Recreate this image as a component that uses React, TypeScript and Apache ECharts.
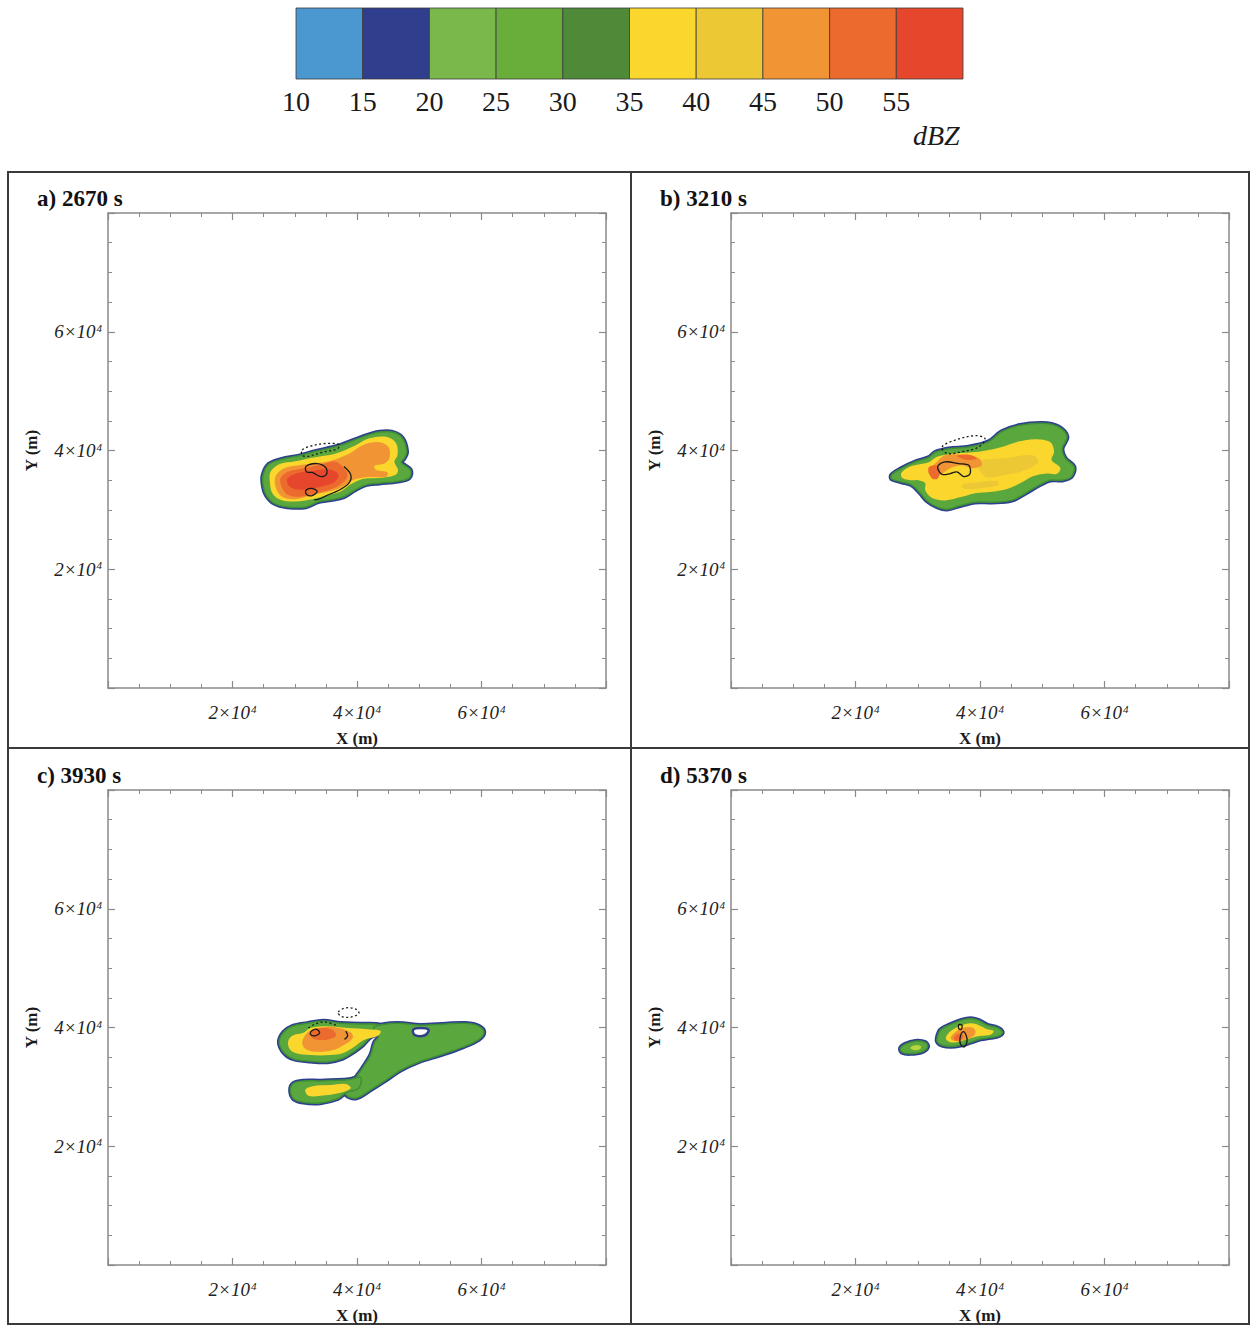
import React, { useEffect, useRef } from "react";
import * as echarts from "echarts";

// ---------- colour bar ----------
const barEdges = [10, 15, 20, 25, 30, 35, 40, 45, 50, 55, 60];
const barColors = ["#4b97cf", "#2f3f8e", "#7ab84b", "#69ae3b", "#4f8a39", "#fbd62d", "#edc835", "#f19434", "#ec6a2e", "#e6462b"];
const barTickLabels = [10, 15, 20, 25, 30, 35, 40, 45, 50, 55];
const barUnit = "dBZ";

// ---------- panels ----------
const panelTitles = ["a) 2670 s", "b) 3210 s", "c) 3930 s", "d) 5370 s"];

// contour polygons, km (x, y)
// panel a
const a20 = [[24.9,35.9],[25.85,37.7],[28.5,38.7],[30.7,39.1],[33.1,39.8],[37.1,40.8],[40.9,42.3],[43.6,43.1],[45.7,43.1],[47.3,42.1],[48.0,39.8],[47.6,38.7],[47.1,38.0],[48.6,36.7],[48.4,35.4],[46.5,34.8],[43.6,34.5],[41.4,34.2],[39.6,33.3],[37.9,32.2],[35.8,31.7],[33.9,31.4],[31.8,30.5],[28.8,30.5],[26.7,31.1],[25.4,32.5],[24.9,34.2]];
const a35 = [[26.1,36.4],[27.5,37.7],[30.1,38.2],[32.8,38.8],[36.6,39.5],[39.8,40.9],[42.0,42.05],[44.7,42.3],[46.3,41.2],[46.5,39.2],[46.0,38.1],[46.6,36.7],[46.2,35.9],[44.1,35.4],[40.9,35.2],[39.0,34.3],[37.4,33.1],[35.3,32.5],[32.8,31.8],[30.1,31.4],[27.7,31.7],[26.4,32.8],[26.0,34.75]];
const a45 = [[26.9,35.6],[28.3,37.0],[31.2,37.6],[35.5,38.2],[38.8,39.5],[40.9,40.9],[43.6,41.4],[45.1,40.5],[45.2,38.7],[44.4,37.8],[42.8,37.4],[43.1,36.7],[44.9,36.3],[44.7,35.6],[41.4,35.5],[39.3,35.0],[37.7,33.9],[35.5,33.1],[32.8,32.5],[30.1,31.8],[28.0,32.2],[27.0,33.6]];
const a50 = [[27.7,35.3],[28.8,36.4],[31.8,37.1],[34.5,37.7],[36.6,38.1],[37.9,37.0],[38.5,35.9],[37.9,34.75],[36.1,33.6],[33.4,32.8],[30.7,32.2],[28.8,32.6],[27.9,33.9]];
const a55 = [[28.8,35.2],[30.5,36.2],[33.0,36.6],[35.5,36.8],[37.0,36.0],[36.5,34.8],[34.5,34.0],[31.5,33.4],[29.3,33.8]];
const aSolid1 = [[31.8,37.3],[33.6,37.8],[35.0,37.1],[35.1,36.0],[34.2,35.6],[32.8,36.3],[31.9,36.4]];
const aSolid2 = [[37.9,37.3],[39.0,35.9],[38.7,34.5],[37.1,33.3],[35.3,32.5],[33.9,31.8],[33.1,31.7]];
const aSolid3 = [[31.8,33.3],[32.8,33.6],[33.6,33.1],[32.8,32.4],[31.9,32.6]];
const aDash = [[31.2,40.1],[32.8,40.8],[35.3,41.2],[37.1,41.0],[36.9,40.3],[34.4,39.7],[32.0,39.0],[31.2,39.2]];

// panel b
const b20 = [[25.8,35.9],[27.4,37.0],[29.6,38.1],[31.7,38.8],[32.8,39.7],[35.0,40.3],[38.2,40.6],[41.4,41.5],[43.5,43.2],[46.2,44.2],[50.0,44.6],[52.6,44.0],[54.0,42.3],[53.2,40.3],[53.7,38.7],[55.1,37.3],[54.7,35.6],[53.2,35.0],[51.3,35.0],[49.4,34.1],[47.3,32.8],[45.1,31.6],[41.9,31.3],[39.2,31.3],[36.8,30.7],[34.7,30.1],[33.1,30.5],[31.5,31.5],[30.4,32.8],[29.0,34.2],[27.4,34.7],[25.8,35.2]];
const b35 = [[27.4,36.3],[29.0,37.4],[31.7,38.0],[33.1,38.95],[36.0,39.5],[39.8,39.8],[43.5,40.6],[46.2,41.5],[48.9,41.9],[51.3,41.4],[51.9,39.8],[51.5,38.4],[52.9,37.1],[52.4,36.1],[50.5,36.1],[48.6,35.7],[46.8,34.7],[44.6,33.6],[41.9,33.05],[39.2,32.8],[37.1,32.2],[34.4,31.6],[32.3,32.0],[31.2,33.3],[31.2,34.5],[30.1,35.0],[28.8,35.0],[27.5,35.4]];
const b40 = [[39.8,38.1],[44.1,38.7],[48.4,39.2],[49.4,38.1],[47.3,36.7],[44.1,35.9],[40.8,35.6]];
const b45a = [[33.1,38.1],[34.4,39.2],[37.1,39.3],[39.8,38.7],[40.3,37.5],[38.7,37.0],[37.1,37.5],[35.2,37.0],[33.9,36.1],[32.5,35.6],[31.7,36.4]];
const b45b = [[37.1,34.2],[39.8,34.7],[42.7,34.85],[43.0,34.2],[40.3,33.7],[37.6,33.5]];
const b50a = [[31.7,37.0],[32.8,37.5],[33.6,36.7],[33.2,35.3],[32.3,35.3]];
const b50b = [[36.3,39.1],[38.2,39.3],[39.5,38.7],[37.9,38.4]];
const bSolid = [[33.3,37.5],[34.4,38.1],[36.6,37.8],[38.2,37.5],[38.4,36.1],[37.4,35.6],[36.3,36.4],[35.2,36.1],[33.9,35.97],[33.3,36.7]];
const bDash = [[33.9,40.6],[36.0,41.75],[39.2,42.5],[40.8,42.0],[39.8,40.6],[37.1,39.8],[34.7,39.5]];

// panel c
const cUL20 = [[27.5,37.5],[28.2,39.2],[29.6,40.2],[32.0,40.7],[34.6,41.1],[37.4,40.7],[40.6,40.6],[43.8,40.4],[44.1,39.2],[42.2,38.4],[40.9,37.0],[39.5,35.9],[37.7,34.8],[35.3,34.2],[32.5,34.3],[29.8,34.7],[28.3,35.7]];
const cEast20 = [[43.0,40.2],[46.5,40.7],[50.2,40.4],[54.3,40.6],[57.5,40.7],[59.6,40.2],[60.4,39.2],[59.6,38.0],[57.0,36.7],[53.5,35.4],[49.9,34.2],[47.0,32.8],[44.6,31.1],[42.2,29.5],[39.8,28.1],[38.2,28.8],[39.3,30.8],[40.9,33.2],[42.2,35.4],[42.8,37.5],[43.5,38.5],[42.5,39.2]];
const cLow20 = [[29.3,29.5],[29.8,30.6],[31.4,31.0],[34.1,31.0],[36.9,31.1],[39.0,31.3],[40.6,31.6],[40.3,29.8],[38.2,29.0],[36.9,28.0],[34.1,27.3],[31.4,27.4],[29.8,28.0]];
const cHole = [[49.0,39.6],[50.2,39.9],[51.5,39.6],[50.9,38.7],[49.3,38.7]];
const cUL35 = [[29.0,37.9],[29.8,38.7],[31.4,39.1],[32.5,39.9],[35.3,40.2],[38.5,39.9],[41.7,39.7],[43.8,39.4],[43.3,38.55],[41.1,37.9],[39.5,36.7],[37.8,35.7],[35.7,35.35],[32.5,35.35],[30.1,35.7],[29.1,36.5]];
const cLow35 = [[31.7,29.5],[32.9,30.1],[35.7,30.3],[38.2,30.5],[39.0,29.8],[37.4,29.0],[34.1,28.5],[32.2,28.5]];
const cUL45 = [[31.2,37.5],[32.0,39.1],[33.7,39.9],[36.2,40.1],[39.0,39.2],[39.3,38.2],[37.8,37.0],[36.2,36.2],[33.7,35.9],[31.7,36.4]];
const cUL50 = [[32.5,39.2],[34.1,39.9],[36.1,39.6],[36.6,38.55],[34.9,37.9],[32.85,38.2]];
const cSolid = [[32.7,39.4],[33.5,39.7],[34.0,39.1],[33.2,38.6],[32.5,38.9]];
const cSolidArc = [[38.2,39.4],[38.5,38.6],[38.0,38.0]];
const cDash = [[37.0,42.6],[38.2,43.3],[39.8,43.1],[40.3,42.4],[39.0,41.75],[37.4,41.9]];
const cDashArc = [[32.2,39.9],[33.3,40.6],[34.9,40.9],[36.6,40.4]];

// panel d
const d20 = [[33.1,38.2],[33.65,39.6],[35.0,40.4],[36.9,41.2],[38.5,41.5],[39.8,41.2],[41.2,40.4],[42.8,39.95],[43.6,39.2],[43.05,38.6],[41.7,38.3],[40.1,38.05],[38.5,37.5],[36.9,37.0],[35.3,36.8],[33.9,37.0],[33.2,37.5]];
const dSmall20 = [[27.2,36.5],[28.0,37.2],[29.6,37.7],[31.2,37.5],[31.6,36.75],[30.7,35.9],[28.8,35.6],[27.5,35.8]];
const dSmall35 = [[28.8,36.6],[29.6,37.0],[30.5,36.9],[30.4,36.4],[29.4,36.2]];
const d35 = [[34.5,38.2],[35.3,39.4],[36.9,40.3],[38.5,40.7],[39.8,40.4],[41.2,39.7],[42.2,39.4],[41.7,38.8],[40.1,38.6],[38.5,38.2],[36.9,37.7],[35.3,37.5]];
const d45 = [[35.3,38.2],[36.1,39.3],[37.4,40.0],[38.75,40.0],[39.3,39.3],[38.75,38.4],[37.4,37.9],[36.1,37.7]];
const d50 = [[35.8,38.4],[36.6,39.0],[37.3,38.6],[36.9,37.9],[36.1,37.8]];
const dSolid1 = [[37.3,39.3],[37.8,38.6],[37.9,37.6],[37.5,36.75],[36.9,37.1],[36.8,38.3]];
const dSolid2 = [[36.6,40.5],[37.1,40.4],[37.0,39.7],[36.6,39.8]];

// ---------- styling ----------
const COL = {
  l15: "#2f3f8e",
  l20: "#5aa83d",
  l20edge: "#3f8f38",
  l35: "#fbd62d",
  l40: "#edc835",
  l45: "#f19434",
  l50: "#ec6a2e",
  l55: "#e6462b",
};
const SERIF = "'Liberation Serif', 'DejaVu Serif', serif";

type Layer = { pts: number[][]; kind: string; color?: string };

const panels: { title: string; left: number; top: number; layers: Layer[] }[] = [
  {
    title: panelTitles[0], left: 108, top: 213,
    layers: [
      { pts: a20, kind: "halo" }, { pts: a20, kind: "fill20" },
      { pts: a35, kind: "fill", color: COL.l35 }, { pts: a45, kind: "fill", color: COL.l45 },
      { pts: a50, kind: "fill", color: COL.l50 }, { pts: a55, kind: "fill", color: COL.l55 },
      { pts: aSolid1, kind: "solid" }, { pts: aSolid2, kind: "open" }, { pts: aSolid3, kind: "solid" },
      { pts: aDash, kind: "dash" },
    ],
  },
  {
    title: panelTitles[1], left: 731, top: 213,
    layers: [
      { pts: b20, kind: "halo" }, { pts: b20, kind: "fill20" },
      { pts: b35, kind: "fill", color: COL.l35 }, { pts: b40, kind: "fill", color: COL.l40 },
      { pts: b45a, kind: "fill", color: COL.l45 }, { pts: b45b, kind: "fill", color: COL.l40 },
      { pts: b50a, kind: "fill", color: COL.l50 }, { pts: b50b, kind: "fill", color: COL.l50 },
      { pts: bSolid, kind: "solid" }, { pts: bDash, kind: "dash" },
    ],
  },
  {
    title: panelTitles[2], left: 108, top: 790,
    layers: [
      { pts: cUL20, kind: "halo" }, { pts: cEast20, kind: "halo" }, { pts: cLow20, kind: "halo" },
      { pts: cUL20, kind: "fill20" }, { pts: cEast20, kind: "fill20" }, { pts: cLow20, kind: "fill20" },
      { pts: cHole, kind: "hole" },
      { pts: cUL35, kind: "fill", color: COL.l35 }, { pts: cLow35, kind: "fill", color: COL.l35 },
      { pts: cUL45, kind: "fill", color: COL.l45 }, { pts: cUL50, kind: "fill", color: COL.l50 },
      { pts: cSolid, kind: "solid" }, { pts: cSolidArc, kind: "open" },
      { pts: cDash, kind: "dash" }, { pts: cDashArc, kind: "opendash" },
    ],
  },
  {
    title: panelTitles[3], left: 731, top: 790,
    layers: [
      { pts: d20, kind: "halo" }, { pts: dSmall20, kind: "halo" },
      { pts: d20, kind: "fill20" }, { pts: dSmall20, kind: "fill20" },
      { pts: dSmall35, kind: "fill", color: "#b8d640" },
      { pts: d35, kind: "fill", color: COL.l35 }, { pts: d45, kind: "fill", color: COL.l45 },
      { pts: d50, kind: "fill", color: COL.l50 },
      { pts: dSolid1, kind: "solid" }, { pts: dSolid2, kind: "solid" },
    ],
  },
];

const PW = 498;
const PH = 475;

function layerStyle(l: Layer): any {
  switch (l.kind) {
    case "halo":
      return { fill: COL.l15, stroke: COL.l15, lineWidth: 4.5, lineJoin: "round" };
    case "fill20":
      return { fill: COL.l20, stroke: COL.l20edge, lineWidth: 1.5, lineJoin: "round" };
    case "hole":
      return { fill: "#ffffff", stroke: COL.l15, lineWidth: 2.5 };
    case "fill":
      return { fill: l.color };
    case "solid":
    case "open":
      return { fill: "none", stroke: "#1a1a1a", lineWidth: 1.3 };
    case "dash":
    case "opendash":
      return { fill: "none", stroke: "#1a1a1a", lineWidth: 1.3, lineDash: [2, 2.5] };
  }
  return {};
}

function expLabel(v: number) {
  if (v <= 0 || v >= 80000) return "";
  return `{m|${v / 10000}×10}{e|4}`;
}

const labelRich = {
  m: { fontFamily: SERIF, fontStyle: "italic", fontSize: 19, color: "#222" },
  e: { fontFamily: SERIF, fontStyle: "italic", fontSize: 11, color: "#222", verticalAlign: "top", padding: [0, 0, 0, 1] },
};

function buildOption() {
  const grid: any[] = [];
  const xAxis: any[] = [];
  const yAxis: any[] = [];
  const series: any[] = [];
  const title: any[] = [];

  const axLine = { lineStyle: { color: "#8a8a8a", width: 1.5 } };
  const tick = { inside: true, length: 7, lineStyle: { color: "#8a8a8a", width: 1.2 } };
  const minor = { show: true, splitNumber: 4, length: 4, lineStyle: { color: "#8a8a8a", width: 1 } };
  const nameStyle = { fontFamily: SERIF, fontWeight: "bold", fontSize: 17, color: "#1a1a1a" };

  panels.forEach((p, gi) => {
    grid.push({ left: p.left, top: p.top, width: PW, height: PH });
    const base = { type: "value", min: 0, max: 80000, interval: 20000, gridIndex: gi, splitLine: { show: false }, axisLine: { show: true, onZero: false, ...axLine }, axisTick: tick, minorTick: minor };
    xAxis.push({
      ...base, position: "bottom",
      axisLabel: { formatter: expLabel, rich: labelRich, margin: 15 },
      name: "X (m)", nameLocation: "middle", nameGap: 42, nameTextStyle: nameStyle,
    });
    xAxis.push({ ...base, position: "top", axisLabel: { show: false } });
    yAxis.push({
      ...base, position: "left",
      axisLabel: { formatter: expLabel, rich: labelRich, margin: 6 },
      name: "Y (m)", nameLocation: "middle", nameGap: 68, nameRotate: 90, nameTextStyle: nameStyle,
    });
    yAxis.push({ ...base, position: "right", axisLabel: { show: false } });

    title.push({
      text: p.title, left: p.left - 76, top: p.top - 31,
      textStyle: { fontFamily: SERIF, fontWeight: "bold", fontSize: 23, color: "#111" },
    });

    p.layers.forEach((l) => {
      const closed = !(l.kind === "open" || l.kind === "opendash");
      const style = layerStyle(l);
      const pts = l.pts;
      series.push({
        type: "custom",
        xAxisIndex: gi * 2,
        yAxisIndex: gi * 2,
        silent: true,
        clip: true,
        data: pts.map((q) => [q[0] * 1000, q[1] * 1000]),
        renderItem: (params: any, api: any) => {
          if (params.dataIndex !== 0) return null;
          const points = pts.map((q) => api.coord([q[0] * 1000, q[1] * 1000]));
          return {
            type: closed ? "polygon" : "polyline",
            shape: { points, smooth: 0.35 },
            style,
          };
        },
      });
    });
  });

  // colour bar grid
  const cbi = panels.length;
  grid.push({ left: 296, top: 8, width: 667, height: 71 });
  xAxis.push({
    type: "value", gridIndex: cbi, min: 10, max: 60, interval: 5,
    axisLine: { show: false }, axisTick: { show: false }, splitLine: { show: false },
    axisLabel: {
      margin: 8,
      formatter: (v: number) => (barTickLabels.indexOf(v) >= 0 ? String(v) : ""),
      fontFamily: SERIF, fontSize: 28, color: "#1a1a1a",
    },
  });
  yAxis.push({ type: "value", gridIndex: cbi, min: 0, max: 1, show: false });
  series.push({
    type: "custom",
    xAxisIndex: cbi * 2,
    yAxisIndex: cbi * 2,
    silent: true,
    data: barColors.map((c, i) => [barEdges[i], barEdges[i + 1], i]),
    renderItem: (params: any, api: any) => {
      const lo = api.value(0);
      const hi = api.value(1);
      const i = api.value(2);
      const p0 = api.coord([lo, 1]);
      const p1 = api.coord([hi, 0]);
      return {
        type: "rect",
        shape: { x: p0[0], y: p0[1], width: p1[0] - p0[0], height: p1[1] - p0[1] },
        style: { fill: barColors[i], stroke: "#3a3a3a", lineWidth: 0.8 },
      };
    },
  });

  return {
    animation: false,
    backgroundColor: "#ffffff",
    title,
    grid,
    xAxis,
    yAxis,
    series,
    graphic: [
      {
        type: "text", left: 913, top: 121,
        style: { text: barUnit, fontFamily: SERIF, fontStyle: "italic", fontSize: 28, fill: "#1a1a1a" },
      },
      {
        type: "rect", shape: { x: 8, y: 172, width: 1241, height: 1152 },
        style: { fill: "none", stroke: "#3a3a3a", lineWidth: 2 }, silent: true,
      },
      { type: "line", shape: { x1: 631, y1: 172, x2: 631, y2: 1324 }, style: { stroke: "#3a3a3a", lineWidth: 2 }, silent: true },
      { type: "line", shape: { x1: 8, y1: 748, x2: 1249, y2: 748 }, style: { stroke: "#3a3a3a", lineWidth: 2 }, silent: true },
    ],
  };
}

export default function App() {
  const ref = useRef<HTMLDivElement>(null);
  useEffect(() => {
    if (!ref.current) return;
    const chart = echarts.init(ref.current, undefined, { renderer: "svg" });
    chart.setOption(buildOption() as any);
    return () => chart.dispose();
  }, []);
  return (
    <div
      ref={ref}
      style={{ position: "absolute", left: 0, top: 0, width: 1252, height: 1326, background: "#fff" }}
    />
  );
}
